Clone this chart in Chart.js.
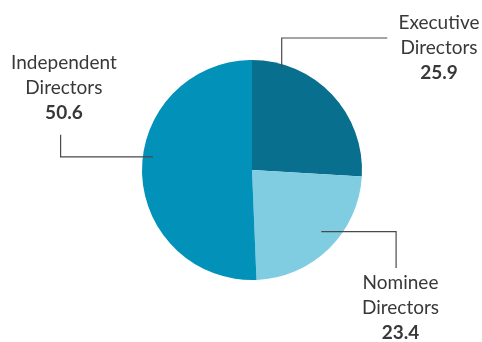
<!DOCTYPE html>
<html>
<head>
<meta charset="utf-8">
<script src="https://cdn.jsdelivr.net/npm/chart.js@4.4.1/dist/chart.umd.min.js"></script>
<style>
  html, body { margin: 0; padding: 0; background: #ffffff; }
  #wrap { width: 482px; height: 342px; position: relative; }
</style>
</head>
<body>
<div id="wrap"><canvas id="chart" width="482" height="342"></canvas></div>
<script>
// Board composition (% of directors)
const categories = ['Executive Directors', 'Nominee Directors', 'Independent Directors'];
const values = [25.9, 23.4, 50.6];
const colours = ['#08708e', '#80cde1', '#0292b9'];

// Callout text lines for each slice
const labelLines = [
  ['Executive', 'Directors'],
  ['Nominee', 'Directors'],
  ['Independent', 'Directors']
];

const FONT = 'Lato, "Open Sans", sans-serif';

const calloutPlugin = {
  id: 'callouts',
  afterDatasetsDraw(chart) {
    const ctx = chart.ctx;
    const arc = chart.getDatasetMeta(0).data[0];
    const cx = arc.x, cy = arc.y, r = arc.outerRadius;
    // offsets expressed in units of the radius so the callouts follow the pie
    const layouts = [
      { tx: cx + 1.70 * r, ty: cy - 1.34 * r,
        path: [[cx + 0.27 * r, cy - 0.93 * r], [cx + 0.27 * r, cy - 1.20 * r], [cx + 1.23 * r, cy - 1.20 * r]] },
      { tx: cx + 1.35 * r, ty: cy + 1.03 * r,
        path: [[cx + 0.63 * r, cy + 0.56 * r], [cx + 1.31 * r, cy + 0.56 * r], [cx + 1.31 * r, cy + 0.89 * r]] },
      { tx: cx - 1.71 * r, ty: cy - 0.97 * r,
        path: [[cx - 1.74 * r, cy - 0.32 * r], [cx - 1.74 * r, cy - 0.12 * r], [cx - 0.90 * r, cy - 0.12 * r]] }
    ];
    ctx.save();
    layouts.forEach((l, i) => {
      ctx.strokeStyle = '#4a4a4a';
      ctx.lineWidth = 1.2;
      ctx.beginPath();
      l.path.forEach((p, j) => j ? ctx.lineTo(p[0], p[1]) : ctx.moveTo(p[0], p[1]));
      ctx.stroke();

      ctx.fillStyle = '#383838';
      ctx.textAlign = 'center';
      ctx.textBaseline = 'middle';
      ctx.font = '19px ' + FONT;
      ctx.fillText(labelLines[i][0], l.tx, l.ty);
      ctx.fillText(labelLines[i][1], l.tx, l.ty + 25);
      ctx.font = 'bold 19px ' + FONT;
      ctx.fillText(values[i].toFixed(1), l.tx, l.ty + 50);
    });
    ctx.restore();
  }
};

new Chart(document.getElementById('chart'), {
  type: 'pie',
  data: {
    labels: categories,
    datasets: [{
      data: values,
      backgroundColor: colours,
      borderWidth: 0,
      hoverOffset: 0
    }]
  },
  options: {
    responsive: false,
    animation: false,
    layout: { padding: { top: 60, bottom: 62, left: 142, right: 120 } },
    plugins: {
      legend: { display: false },
      tooltip: { enabled: false }
    }
  },
  plugins: [calloutPlugin]
});
</script>
</body>
</html>
